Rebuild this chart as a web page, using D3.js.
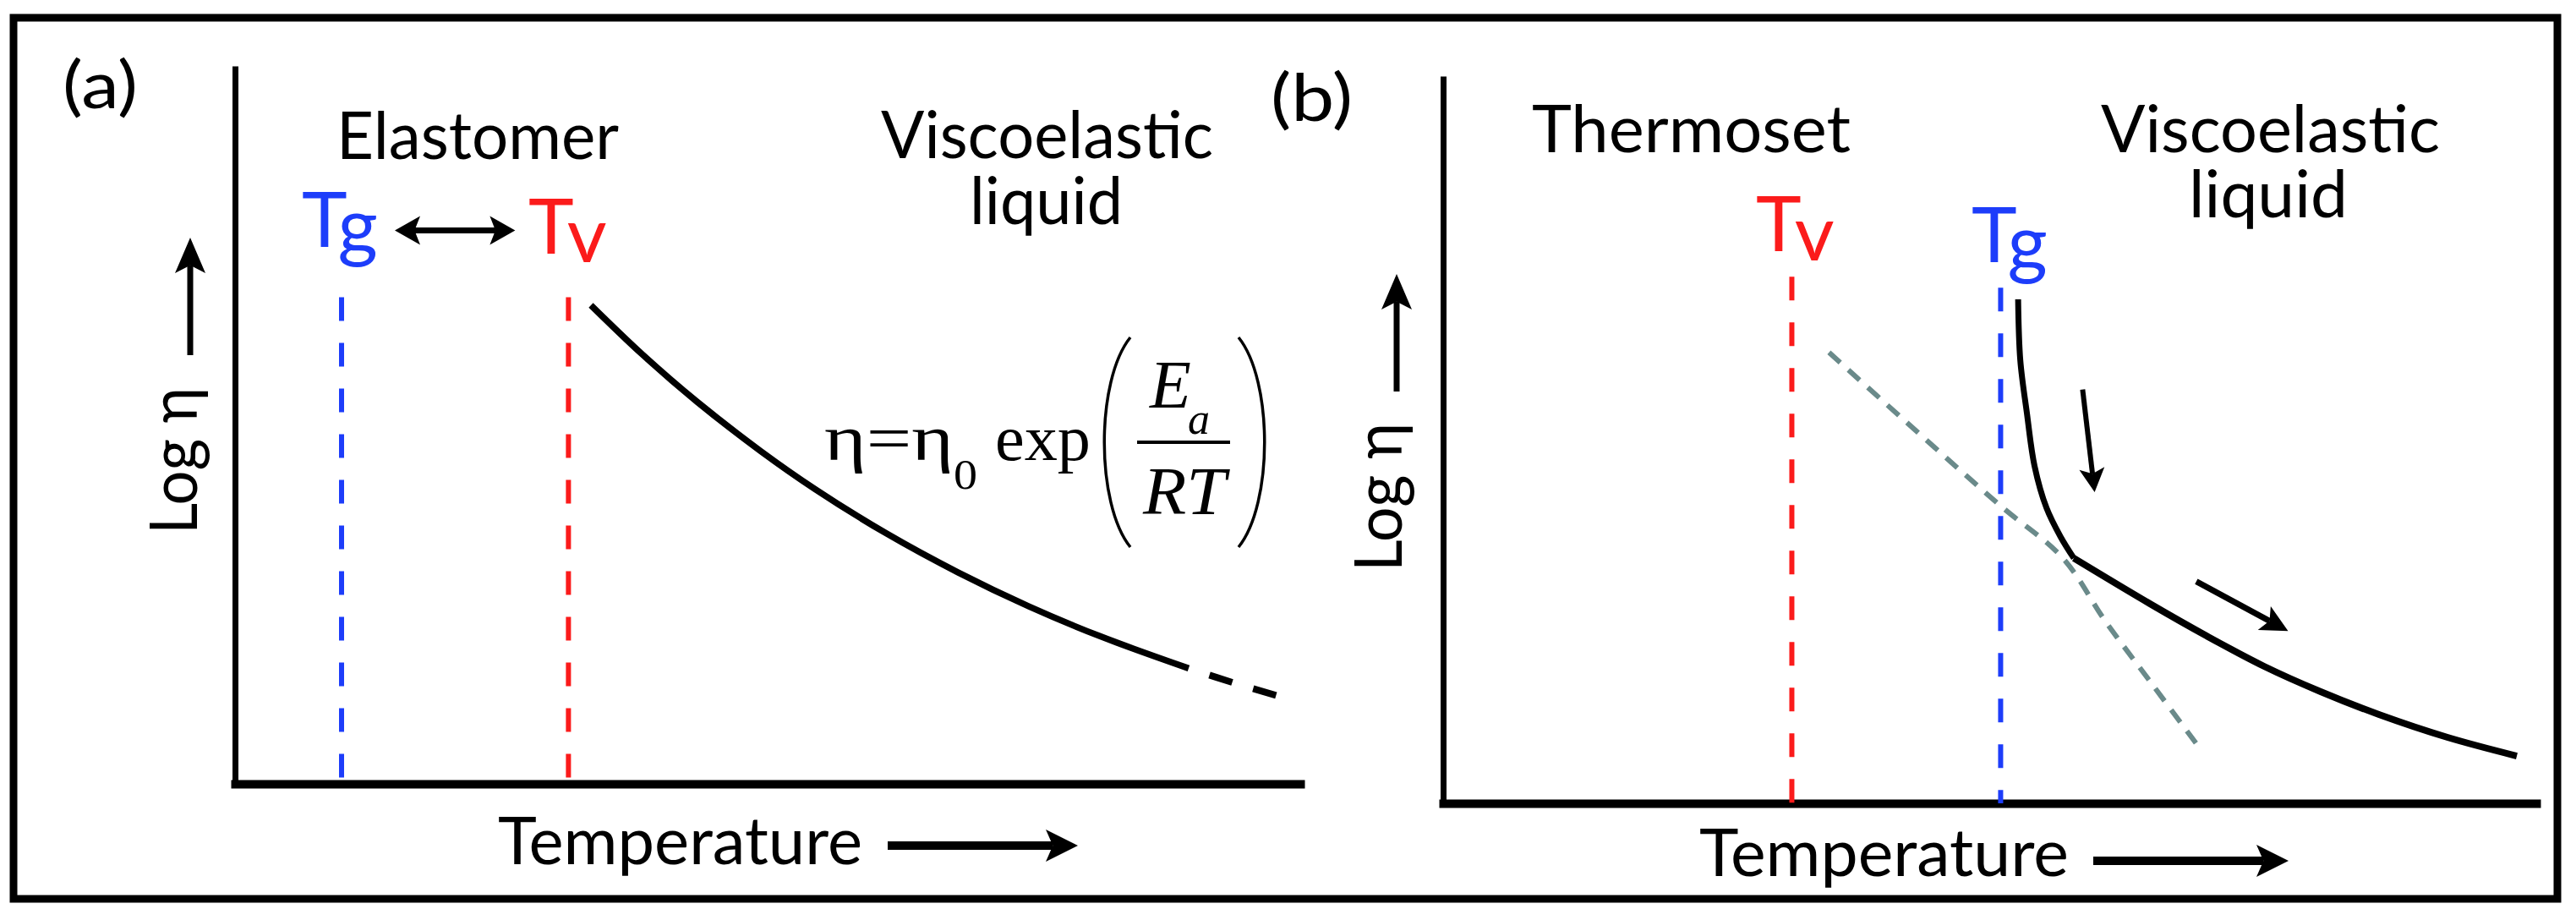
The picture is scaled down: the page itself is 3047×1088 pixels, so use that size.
<!DOCTYPE html>
<html>
<head>
<meta charset="utf-8">
<script src="https://cdn.jsdelivr.net/npm/d3@7"></script>
<style>
  body { margin: 0; background: #fff; }
  svg { display: block; }
</style>
</head>
<body>
<div id="chart"></div>
<script>
// ---- data (temperature, log viscosity) in arbitrary 0-100 units ----
// panel (a): vitrimer above Tv, Arrhenius flow
const curveA = [[33.41, 66.67], [38.25, 59.80], [43.41, 53.18], [49.37, 46.33], [54.44, 41.07],
                [61.11, 34.91], [67.86, 29.46], [74.52, 24.72], [81.19, 20.57], [89.52, 16.09]];
const tailA = [[89.52, 16.09], [93.97, 13.97], [98.41, 12.04]];
const transitionsA = [{ name: "g", T: 10.0, top: 67.8 }, { name: "v", T: 31.3, top: 67.8 }];
const rangeArrowA = [[15.0, 77.1], [26.3, 77.1]];

// panel (b): Tv below Tg
const steepB = [[52.6, 69.3], [52.8, 60.9], [53.4, 53.7], [54.1, 46.4], [55.2, 40.6],
                [56.5, 36.6], [57.7, 33.7]];
const flowB = [[57.7, 33.7], [64.66, 27.44], [69.84, 23.02], [75.1, 18.84], [80.28, 15.35],
               [85.61, 12.21], [91.88, 9.07], [98.22, 6.51]];
const exchangeB = [[35.3, 62.0], [43.5, 50.9], [51.0, 40.9], [56.7, 33.7], [60.6, 25.0],
                   [64.8, 16.5], [69.4, 7.2]];
const transitionsB = [{ name: "v", T: 31.9, top: 72.4 }, { name: "g", T: 51.0, top: 70.9 }];
const downArrowB = [[58.5, 56.9], [59.6, 42.8]];
const flowArrowB = [[68.9, 30.5], [77.3, 23.7]];

const W = 3047, H = 1088;
const BLUE = "#1d3dfa", RED = "#fb1b1b", GREY = "#6a8a8a";
const SANS = "Lato, 'Open Sans', sans-serif";
const SERIF = "'Liberation Serif', 'DejaVu Serif', serif";

const svg = d3.select("#chart").append("svg")
    .attr("width", W).attr("height", H)
    .attr("viewBox", `0 0 ${W} ${H}`);

svg.append("rect").attr("width", W).attr("height", H).attr("fill", "#fff");
// outer frame
svg.append("rect")
    .attr("x", 16).attr("y", 21).attr("width", 3009).attr("height", 1042)
    .attr("fill", "none").attr("stroke", "#000").attr("stroke-width", 9);

const xA = d3.scaleLinear().domain([0, 100]).range([278, 1538]);
const yA = d3.scaleLinear().domain([0, 100]).range([927, 78]);
const xB = d3.scaleLinear().domain([0, 100]).range([1707, 3000]);
const yB = d3.scaleLinear().domain([0, 100]).range([950, 90]);

function arrow(g, x1, y1, x2, y2, o) {
    const len = Math.hypot(x2 - x1, y2 - y1), ux = (x2 - x1) / len, uy = (y2 - y1) / len;
    const L = o.head, hw = o.width / 2, notch = L * 0.22;
    const bx = x2 - ux * L, by = y2 - uy * L;
    g.append("line")
        .attr("x1", x1).attr("y1", y1)
        .attr("x2", bx + ux * notch).attr("y2", by + uy * notch)
        .attr("stroke", "#000").attr("stroke-width", o.stroke);
    const px = -uy, py = ux;
    g.append("path")
        .attr("d", `M${x2},${y2}L${bx + px * hw},${by + py * hw}L${bx + ux * notch},${by + uy * notch}L${bx - px * hw},${by - py * hw}Z`)
        .attr("fill", "#000");
}

function label(g, txt, x, y, len, size) {
    return g.append("text").attr("x", x).attr("y", y)
        .attr("font-family", SANS).attr("font-size", size || 77)
        .attr("textLength", len).attr("lengthAdjust", "spacingAndGlyphs")
        .text(txt);
}

// two-line label kept in one text element
function label2(g, lines) {
    const t = g.append("text").attr("font-family", SANS).attr("font-size", 77);
    lines.forEach(l => t.append("tspan").attr("x", l.x).attr("y", l.y)
        .attr("textLength", l.len).attr("lengthAdjust", "spacingAndGlyphs").text(l.text));
}

function tLabel(g, sub, x, y, dy, color) {
    const t = g.append("text").attr("x", x).attr("y", y)
        .attr("font-family", SANS).attr("font-size", 91).attr("fill", color);
    t.append("tspan").text("T");
    t.append("tspan").attr("dy", dy).text(sub);
}

function panel(x, y, opts) {
    const g = svg.append("g");
    // axes: domain lines only
    g.append("g").attr("transform", `translate(0,${y.range()[0]})`)
        .call(d3.axisBottom(x).ticks(0).tickSizeOuter(0))
        .call(s => s.select(".domain").attr("stroke-width", 10).attr("stroke-linecap", "square"));
    g.append("g").attr("transform", `translate(${x.range()[0]},0)`)
        .call(d3.axisLeft(y).ticks(0).tickSizeOuter(0))
        .call(s => s.select(".domain").attr("stroke-width", 7));

    // transition temperatures
    g.selectAll("line.tr").data(opts.transitions).join("line")
        .attr("class", "tr")
        .attr("x1", d => x(d.T)).attr("x2", d => x(d.T))
        .attr("y1", d => y(d.top)).attr("y2", y(0))
        .attr("stroke", d => d.name === "g" ? BLUE : RED)
        .attr("stroke-width", 6)
        .attr("stroke-dasharray", "28,26");
    return g;
}

const lineA = d3.line().x(d => xA(d[0])).y(d => yA(d[1])).curve(d3.curveCatmullRom.alpha(0.5));
const lineB = d3.line().x(d => xB(d[0])).y(d => yB(d[1])).curve(d3.curveCatmullRom.alpha(0.5));

// ---------------- panel (a) ----------------
const gA = panel(xA, yA, { transitions: transitionsA });

gA.append("path").datum(curveA).attr("d", lineA)
    .attr("fill", "none").attr("stroke", "#000").attr("stroke-width", 7.5);
gA.append("path").datum(tailA).attr("d", lineA)
    .attr("fill", "none").attr("stroke", "#000").attr("stroke-width", 8)
    .attr("stroke-dasharray", "0,26,28,0");

arrow(gA, xA(rangeArrowA[0][0]) + 20, yA(rangeArrowA[0][1]), xA(rangeArrowA[0][0]), yA(rangeArrowA[0][1]), { head: 30, width: 34, stroke: 7 });
arrow(gA, xA(rangeArrowA[0][0]) + 20, yA(rangeArrowA[1][1]), xA(rangeArrowA[1][0]), yA(rangeArrowA[1][1]), { head: 30, width: 34, stroke: 7 });

label(gA, "(a)", 74, 128, 89);
label(gA, "Elastomer", 398, 188, 334);
label2(gA, [{ text: "Viscoelastic", x: 1042, y: 187, len: 393 },
            { text: "liquid", x: 1147, y: 265, len: 181 }]);
tLabel(gA, "g", 357, 292, 7, BLUE);
tLabel(gA, "v", 625, 300, 10, RED);
label(gA, "Temperature", 589, 1022, 431);
arrow(gA, 1050, 1000, 1275, 1000, { head: 38, width: 38, stroke: 10 });
label(gA, "Log η", 0, 0, 174).attr("transform", "translate(233,632) rotate(-90)");
arrow(gA, 225, 420, 225, 281, { head: 42, width: 36, stroke: 7 });

// Arrhenius equation
const eq = gA.append("g").attr("font-family", SERIF).attr("fill", "#000");
eq.append("text").attr("x", 975).attr("y", 544).attr("font-size", 76)
    .attr("textLength", 153).attr("lengthAdjust", "spacingAndGlyphs").text("η=η");
eq.append("text").attr("x", 1128).attr("y", 578).attr("font-size", 50)
    .attr("textLength", 28).attr("lengthAdjust", "spacingAndGlyphs").text("0");
eq.append("text").attr("x", 1177).attr("y", 544).attr("font-size", 76)
    .attr("textLength", 113).attr("lengthAdjust", "spacingAndGlyphs").text("exp");
eq.append("text").attr("x", 1360).attr("y", 482).attr("font-size", 80)
    .attr("font-style", "italic").text("E");
eq.append("text").attr("x", 1405).attr("y", 513).attr("font-size", 52)
    .attr("font-style", "italic").text("a");
eq.append("line").attr("x1", 1345).attr("x2", 1455).attr("y1", 523).attr("y2", 523)
    .attr("stroke", "#000").attr("stroke-width", 4);
eq.append("text").attr("x", 1352).attr("y", 608).attr("font-size", 80)
    .attr("font-style", "italic").attr("textLength", 98).attr("lengthAdjust", "spacingAndGlyphs").text("RT");
eq.append("path").attr("d", "M1337,399C1296,450 1296,596 1337,647")
    .attr("fill", "none").attr("stroke", "#000").attr("stroke-width", 3.5);
eq.append("path").attr("d", "M1465,399C1506,450 1506,596 1465,647")
    .attr("fill", "none").attr("stroke", "#000").attr("stroke-width", 3.5);

// ---------------- panel (b) ----------------
const gB = panel(xB, yB, { transitions: transitionsB });

gB.append("path").datum(exchangeB).attr("d", lineB)
    .attr("fill", "none").attr("stroke", GREY).attr("stroke-width", 6)
    .attr("stroke-dasharray", "18,13");
gB.append("path").datum(steepB).attr("d", lineB)
    .attr("fill", "none").attr("stroke", "#000").attr("stroke-width", 7);
gB.append("path").datum(flowB).attr("d", lineB)
    .attr("fill", "none").attr("stroke", "#000").attr("stroke-width", 8);

arrow(gB, xB(downArrowB[0][0]), yB(downArrowB[0][1]), xB(downArrowB[1][0]), yB(downArrowB[1][1]), { head: 28, width: 30, stroke: 6 });
arrow(gB, xB(flowArrowB[0][0]), yB(flowArrowB[0][1]), xB(flowArrowB[1][0]), yB(flowArrowB[1][1]), { head: 32, width: 32, stroke: 7 });

label(gB, "(b)", 1503, 143, 97);
label(gB, "Thermoset", 1812, 180, 377);
label2(gB, [{ text: "Viscoelastic", x: 2485, y: 180, len: 401 },
            { text: "liquid", x: 2589, y: 257, len: 188 }]);
tLabel(gB, "v", 2077, 297, 11, RED);
tLabel(gB, "g", 2332, 310, 9, BLUE);
label(gB, "Temperature", 2010, 1036, 437);
arrow(gB, 2476, 1018, 2707, 1018, { head: 38, width: 38, stroke: 10 });
label(gB, "Log η", 0, 0, 176).attr("transform", "translate(1658,676) rotate(-90)");
arrow(gB, 1652, 463, 1652, 324, { head: 42, width: 36, stroke: 7 });
</script>
</body>
</html>
